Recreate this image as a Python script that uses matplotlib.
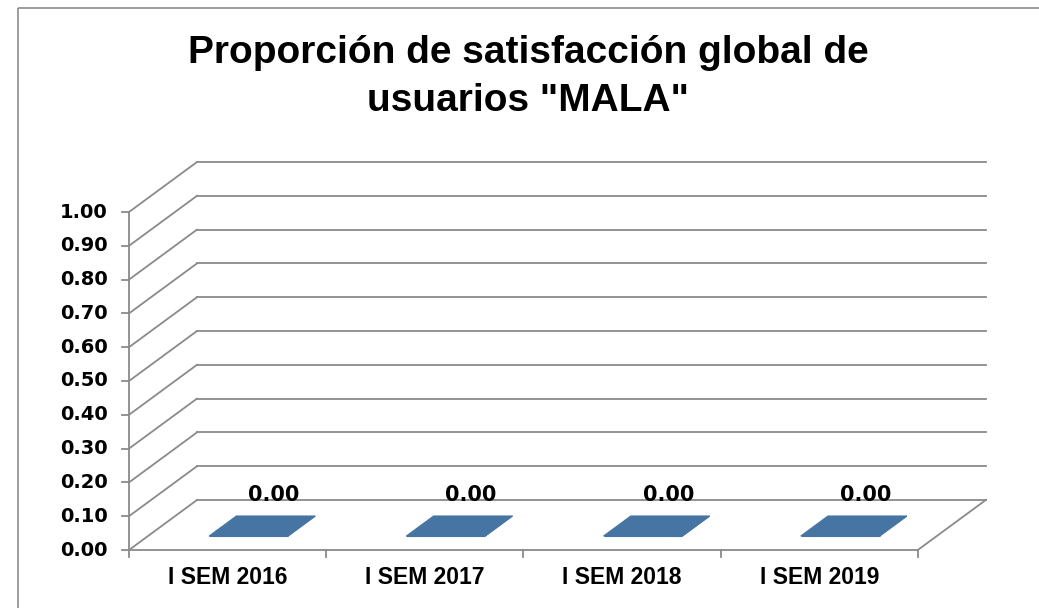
import matplotlib
matplotlib.use("Agg")
import matplotlib.pyplot as plt
from matplotlib.patches import Polygon, Rectangle

categories = ["I SEM 2016", "I SEM 2017", "I SEM 2018", "I SEM 2019"]
values = [0.00, 0.00, 0.00, 0.00]
tick_values = [0.0, 0.1, 0.2, 0.3, 0.4, 0.5, 0.6, 0.7, 0.8, 0.9, 1.0]
title_lines = ["Proporción de satisfacción global de", 'usuarios "MALA"']

# layout of the fake 3d box, in pixels
x0, y0 = 129, 550
cat_w = 197.2
unit = 338
dx, dy = 68, -50
grid_c = "#8a8a8a"
bar_c = "#4775a3"

def to_px(x, v, d):
	return x0 + x*cat_w + d*dx, y0 - v*unit + d*dy

fig = plt.figure(figsize=(10.39, 6.08), dpi=100)
ax = fig.add_axes([0, 0, 1, 1])
ax.set_xlim(0, 1039)
ax.set_ylim(608, 0)
ax.axis("off")

# chart border
ax.add_patch(Rectangle((18, 8), 1100, 700, fill=False, ec="#8c8c8c", lw=1.2))

n = len(categories)

# back wall gridlines + side wall diagonals + y ticks
for t in tick_values:
	bx1, by = to_px(0, t, 1)
	bx2, _ = to_px(n, t, 1)
	ax.plot([bx1, bx2], [by, by], c=grid_c, lw=1.3)
	fx, fy = to_px(0, t, 0)
	ax.plot([fx, bx1], [fy, by], c=grid_c, lw=1.3)
	ax.plot([fx - 7, fx], [fy, fy], c=grid_c, lw=1.3)
	ax.text(fx - 21, fy, f"{t:.2f}", ha="right", va="center",
		fontsize=14, fontweight="bold", family="DejaVu Sans")

# front axis and floor outline
ax.plot(*zip(to_px(0, 0, 0), to_px(0, tick_values[-1], 0)), c=grid_c, lw=1.3)
ax.plot(*zip(to_px(0, 0, 0), to_px(n, 0, 0)), c=grid_c, lw=1.3)
ax.plot(*zip(to_px(n, 0, 0), to_px(n, 0, 1)), c=grid_c, lw=1.3)

for i in range(n + 1):
	tx, ty = to_px(i, 0, 0)
	ax.plot([tx, tx], [ty, ty + 7], c=grid_c, lw=1.3)

# bars
half = 0.2
d1, d2 = 0.28, 0.68
for i, v in enumerate(values):
	cx = i + 0.51
	front = [to_px(cx - half, 0, d1), to_px(cx + half, 0, d1),
		to_px(cx + half, v, d1), to_px(cx - half, v, d1)]
	side = [to_px(cx + half, 0, d1), to_px(cx + half, 0, d2),
		to_px(cx + half, v, d2), to_px(cx + half, v, d1)]
	top = [to_px(cx - half, v, d1), to_px(cx + half, v, d1),
		to_px(cx + half, v, d2), to_px(cx - half, v, d2)]
	for poly in (front, side, top):
		ax.add_patch(Polygon(poly, closed=True, fc=bar_c, ec=bar_c, lw=0.8))
	lx, ly = to_px(cx - 0.01, v, d2)
	ax.text(lx, ly - 21, f"{v:.2f}", ha="center", va="center",
		fontsize=15, fontweight="bold", family="DejaVu Sans")

	cxp, cyp = to_px(i + 0.5, 0, 0)
	ax.text(cxp, cyp + 28, categories[i], ha="center", va="center",
		fontsize=16.5, fontweight="bold", family="Liberation Sans")

for k, line in enumerate(title_lines):
	ax.text(528, 53 + k*48, line, ha="center", va="center", fontsize=28,
		fontweight="bold", family="Liberation Sans")

fig.savefig("out.png", dpi=100)
